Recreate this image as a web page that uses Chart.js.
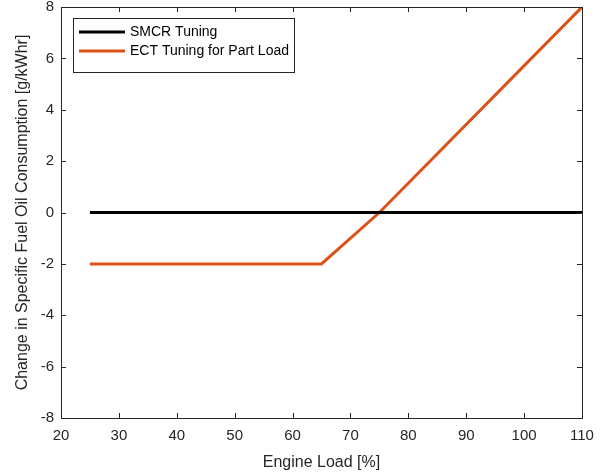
<!DOCTYPE html>
<html>
<head>
<meta charset="utf-8">
<script src="https://cdn.jsdelivr.net/npm/chart.js@4.4.1/dist/chart.umd.min.js"></script>
<style>
  html, body { margin: 0; padding: 0; background: #fff; }
  #wrap { width: 612px; height: 472px; }
</style>
</head>
<body>
<div id="wrap"><canvas id="chart" width="612" height="472"></canvas></div>
<script>
// data
const smcrLoad = [25, 110];
const smcrChange = [0, 0];
const ectLoad = [25, 65, 75, 110];
const ectChange = [-2, -2, 0, 8];
const xTicks = [20, 30, 40, 50, 60, 70, 80, 90, 100, 110];
const yTicks = [-8, -6, -4, -2, 0, 2, 4, 6, 8];

const FONT = "'Liberation Sans', Arial, sans-serif";
const AXIS_COLOR = '#262626';

// MATLAB style: tick marks inside, box on all sides, legend box top-left
const boxPlugin = {
    id: 'boxPlugin',
    afterDraw(chart) {
        const ctx = chart.ctx;
        const a = chart.chartArea;
        const xs = chart.scales.x, ys = chart.scales.y;
        ctx.save();
        ctx.strokeStyle = AXIS_COLOR;
        ctx.lineWidth = 1;
        ctx.beginPath();
        xTicks.forEach(v => {
            const px = Math.round(xs.getPixelForValue(v)) + 0.5;
            ctx.moveTo(px, a.bottom); ctx.lineTo(px, a.bottom - 5);
            ctx.moveTo(px, a.top); ctx.lineTo(px, a.top + 5);
        });
        yTicks.forEach(v => {
            const py = Math.round(ys.getPixelForValue(v)) + 0.5;
            ctx.moveTo(a.left, py); ctx.lineTo(a.left + 5, py);
            ctx.moveTo(a.right, py); ctx.lineTo(a.right - 5, py);
        });
        ctx.stroke();
        ctx.strokeRect(Math.round(a.left) + 0.5, Math.round(a.top) + 0.5,
            Math.round(a.right - a.left), Math.round(a.bottom - a.top));

        // legend
        const lx = a.left + 12, ly = a.top + 11, lw = 221, lh = 54;
        ctx.fillStyle = '#fff';
        ctx.fillRect(lx, ly, lw, lh);
        ctx.strokeStyle = AXIS_COLOR;
        ctx.strokeRect(lx + 0.5, ly + 0.5, lw, lh);
        const items = chart.data.datasets;
        ctx.font = '14px ' + FONT;
        ctx.textBaseline = 'middle';
        items.forEach((ds, i) => {
            const y = ly + 14 + i * 19;
            ctx.strokeStyle = ds.borderColor;
            ctx.lineWidth = 3;
            ctx.beginPath();
            ctx.moveTo(lx + 6, y); ctx.lineTo(lx + 52, y);
            ctx.stroke();
            ctx.fillStyle = '#000';
            ctx.fillText(ds.label, lx + 57, y);
        });
        ctx.restore();
    }
};

new Chart(document.getElementById('chart'), {
    type: 'line',
    data: {
        datasets: [
            {
                label: 'SMCR Tuning',
                data: smcrLoad.map((x, i) => ({ x: x, y: smcrChange[i] })),
                borderColor: '#000000',
                borderWidth: 3,
                pointRadius: 0,
                tension: 0
            },
            {
                label: 'ECT Tuning for Part Load',
                data: ectLoad.map((x, i) => ({ x: x, y: ectChange[i] })),
                borderColor: '#D95319',
                borderWidth: 3,
                pointRadius: 0,
                tension: 0
            }
        ]
    },
    options: {
        responsive: false,
        animation: false,
        layout: { padding: { top: 7, right: 30, left: 0, bottom: 0 } },
        plugins: { legend: { display: false }, tooltip: { enabled: false } },
        scales: {
            x: {
                type: 'linear',
                min: 20, max: 110,
                afterBuildTicks: s => { s.ticks = xTicks.map(v => ({ value: v })); },
                afterFit: s => { s.height = 54; },
                grid: { display: false, drawTicks: false },
                border: { display: false },
                ticks: { color: AXIS_COLOR, font: { family: FONT, size: 15 }, padding: 9, maxRotation: 0 },
                title: { display: true, text: 'Engine Load [%]', color: AXIS_COLOR, font: { family: FONT, size: 16 }, padding: { top: 2, bottom: 0 } }
            },
            y: {
                min: -8, max: 8,
                afterBuildTicks: s => { s.ticks = yTicks.map(v => ({ value: v })); },
                afterFit: s => { s.width = 61; s.paddingTop = 0; s.paddingBottom = 0; },
                grid: { display: false, drawTicks: false },
                border: { display: false },
                ticks: { color: AXIS_COLOR, font: { family: FONT, size: 15 }, padding: 7 },
                title: { display: true, text: 'Change in Specific Fuel Oil Consumption [g/kWhr]', color: AXIS_COLOR, font: { family: FONT, size: 16 }, padding: { top: 13, bottom: 0 } }
            }
        }
    },
    plugins: [boxPlugin]
});
</script>
</body>
</html>
